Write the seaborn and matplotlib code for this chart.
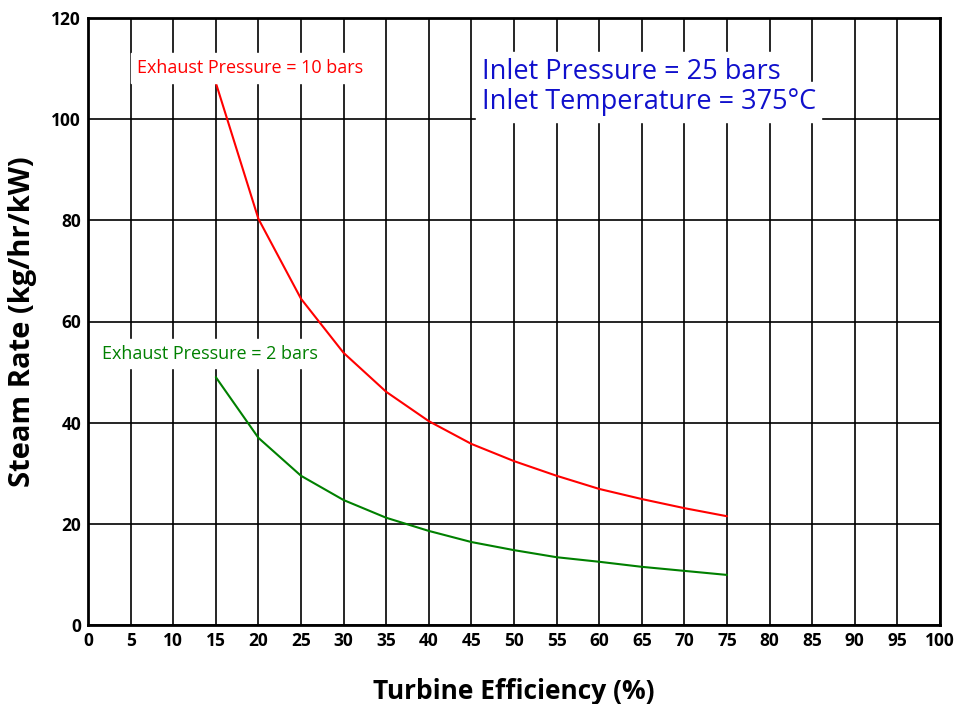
import matplotlib
matplotlib.use("Agg")
import matplotlib.pyplot as plt
import seaborn as sns
import pandas as pd
from matplotlib.ticker import MultipleLocator

efficiency = [15, 20, 25, 30, 35, 40, 45, 50, 55, 60, 65, 70, 75]
rate_10bar = [107.2, 80.3, 64.5, 53.8, 46.1, 40.3, 35.8, 32.4, 29.5, 26.9, 24.9, 23.1, 21.5]
rate_2bar = [49.0, 37.0, 29.5, 24.7, 21.2, 18.6, 16.4, 14.8, 13.4, 12.5, 11.5, 10.7, 9.9]

df = pd.DataFrame({
    "eff": efficiency * 2,
    "rate": rate_10bar + rate_2bar,
    "series": ["10 bars"] * len(efficiency) + ["2 bars"] * len(efficiency),
})

sns.set_style("white")
plt.rcParams['font.family'] = ['Open Sans', 'DejaVu Sans']
plt.rcParams['text.color'] = 'black'
plt.rcParams['axes.labelcolor'] = 'black'
plt.rcParams['xtick.color'] = 'black'
plt.rcParams['ytick.color'] = 'black'

fig = plt.figure(figsize=(9.57, 7.04), dpi=100)
ax = fig.add_axes([88 / 957, 1 - 625 / 704, 852 / 957, 607 / 704])

sns.lineplot(data=df, x="eff", y="rate", hue="series",
             palette={"10 bars": "#ff0000", "2 bars": "#008000"},
             linewidth=1.5, legend=False, ax=ax, zorder=3)

ax.set_xlim(0, 100)
ax.set_ylim(0, 120)
ax.xaxis.set_major_locator(MultipleLocator(5))
ax.xaxis.set_minor_locator(MultipleLocator(2.5))
ax.yaxis.set_major_locator(MultipleLocator(20))
ax.yaxis.set_minor_locator(MultipleLocator(10))
ax.grid(True, which="major", color="black", linewidth=1.2)
ax.tick_params(which="both", direction="in", color="black")
ax.tick_params(which="major", length=0, labelsize=12.5, pad=5)
ax.tick_params(which="minor", length=4, width=1)
for lbl in ax.get_xticklabels() + ax.get_yticklabels():
    lbl.set_fontweight("bold")
for sp in ax.spines.values():
    sp.set_linewidth(2)
    sp.set_color("black")

ax.set_xlabel("Turbine Efficiency (%)", fontsize=19, fontweight="bold", labelpad=20)
ax.set_ylabel("Steam Rate (kg/hr/kW)", fontsize=21, fontweight="bold", labelpad=10)

ax.text(5.75, 110.1, "Exhaust Pressure = 10 bars", color="#ff0000", fontsize=13,
        va="center", ha="left", backgroundcolor="white", zorder=4)
ax.text(1.6, 53.6, "Exhaust Pressure = 2 bars", color="#008000", fontsize=13,
        va="center", ha="left", backgroundcolor="white", zorder=4)
ax.text(46.2, 109.3, "Inlet Pressure = 25 bars", color="#1010cc", fontsize=19.5,
        va="center", ha="left", backgroundcolor="white", zorder=4)
ax.text(46.2, 103.4, "Inlet Temperature = 375°C", color="#1010cc", fontsize=19.5,
        va="center", ha="left", backgroundcolor="white", zorder=4)

fig.savefig("out.png", dpi=100)
